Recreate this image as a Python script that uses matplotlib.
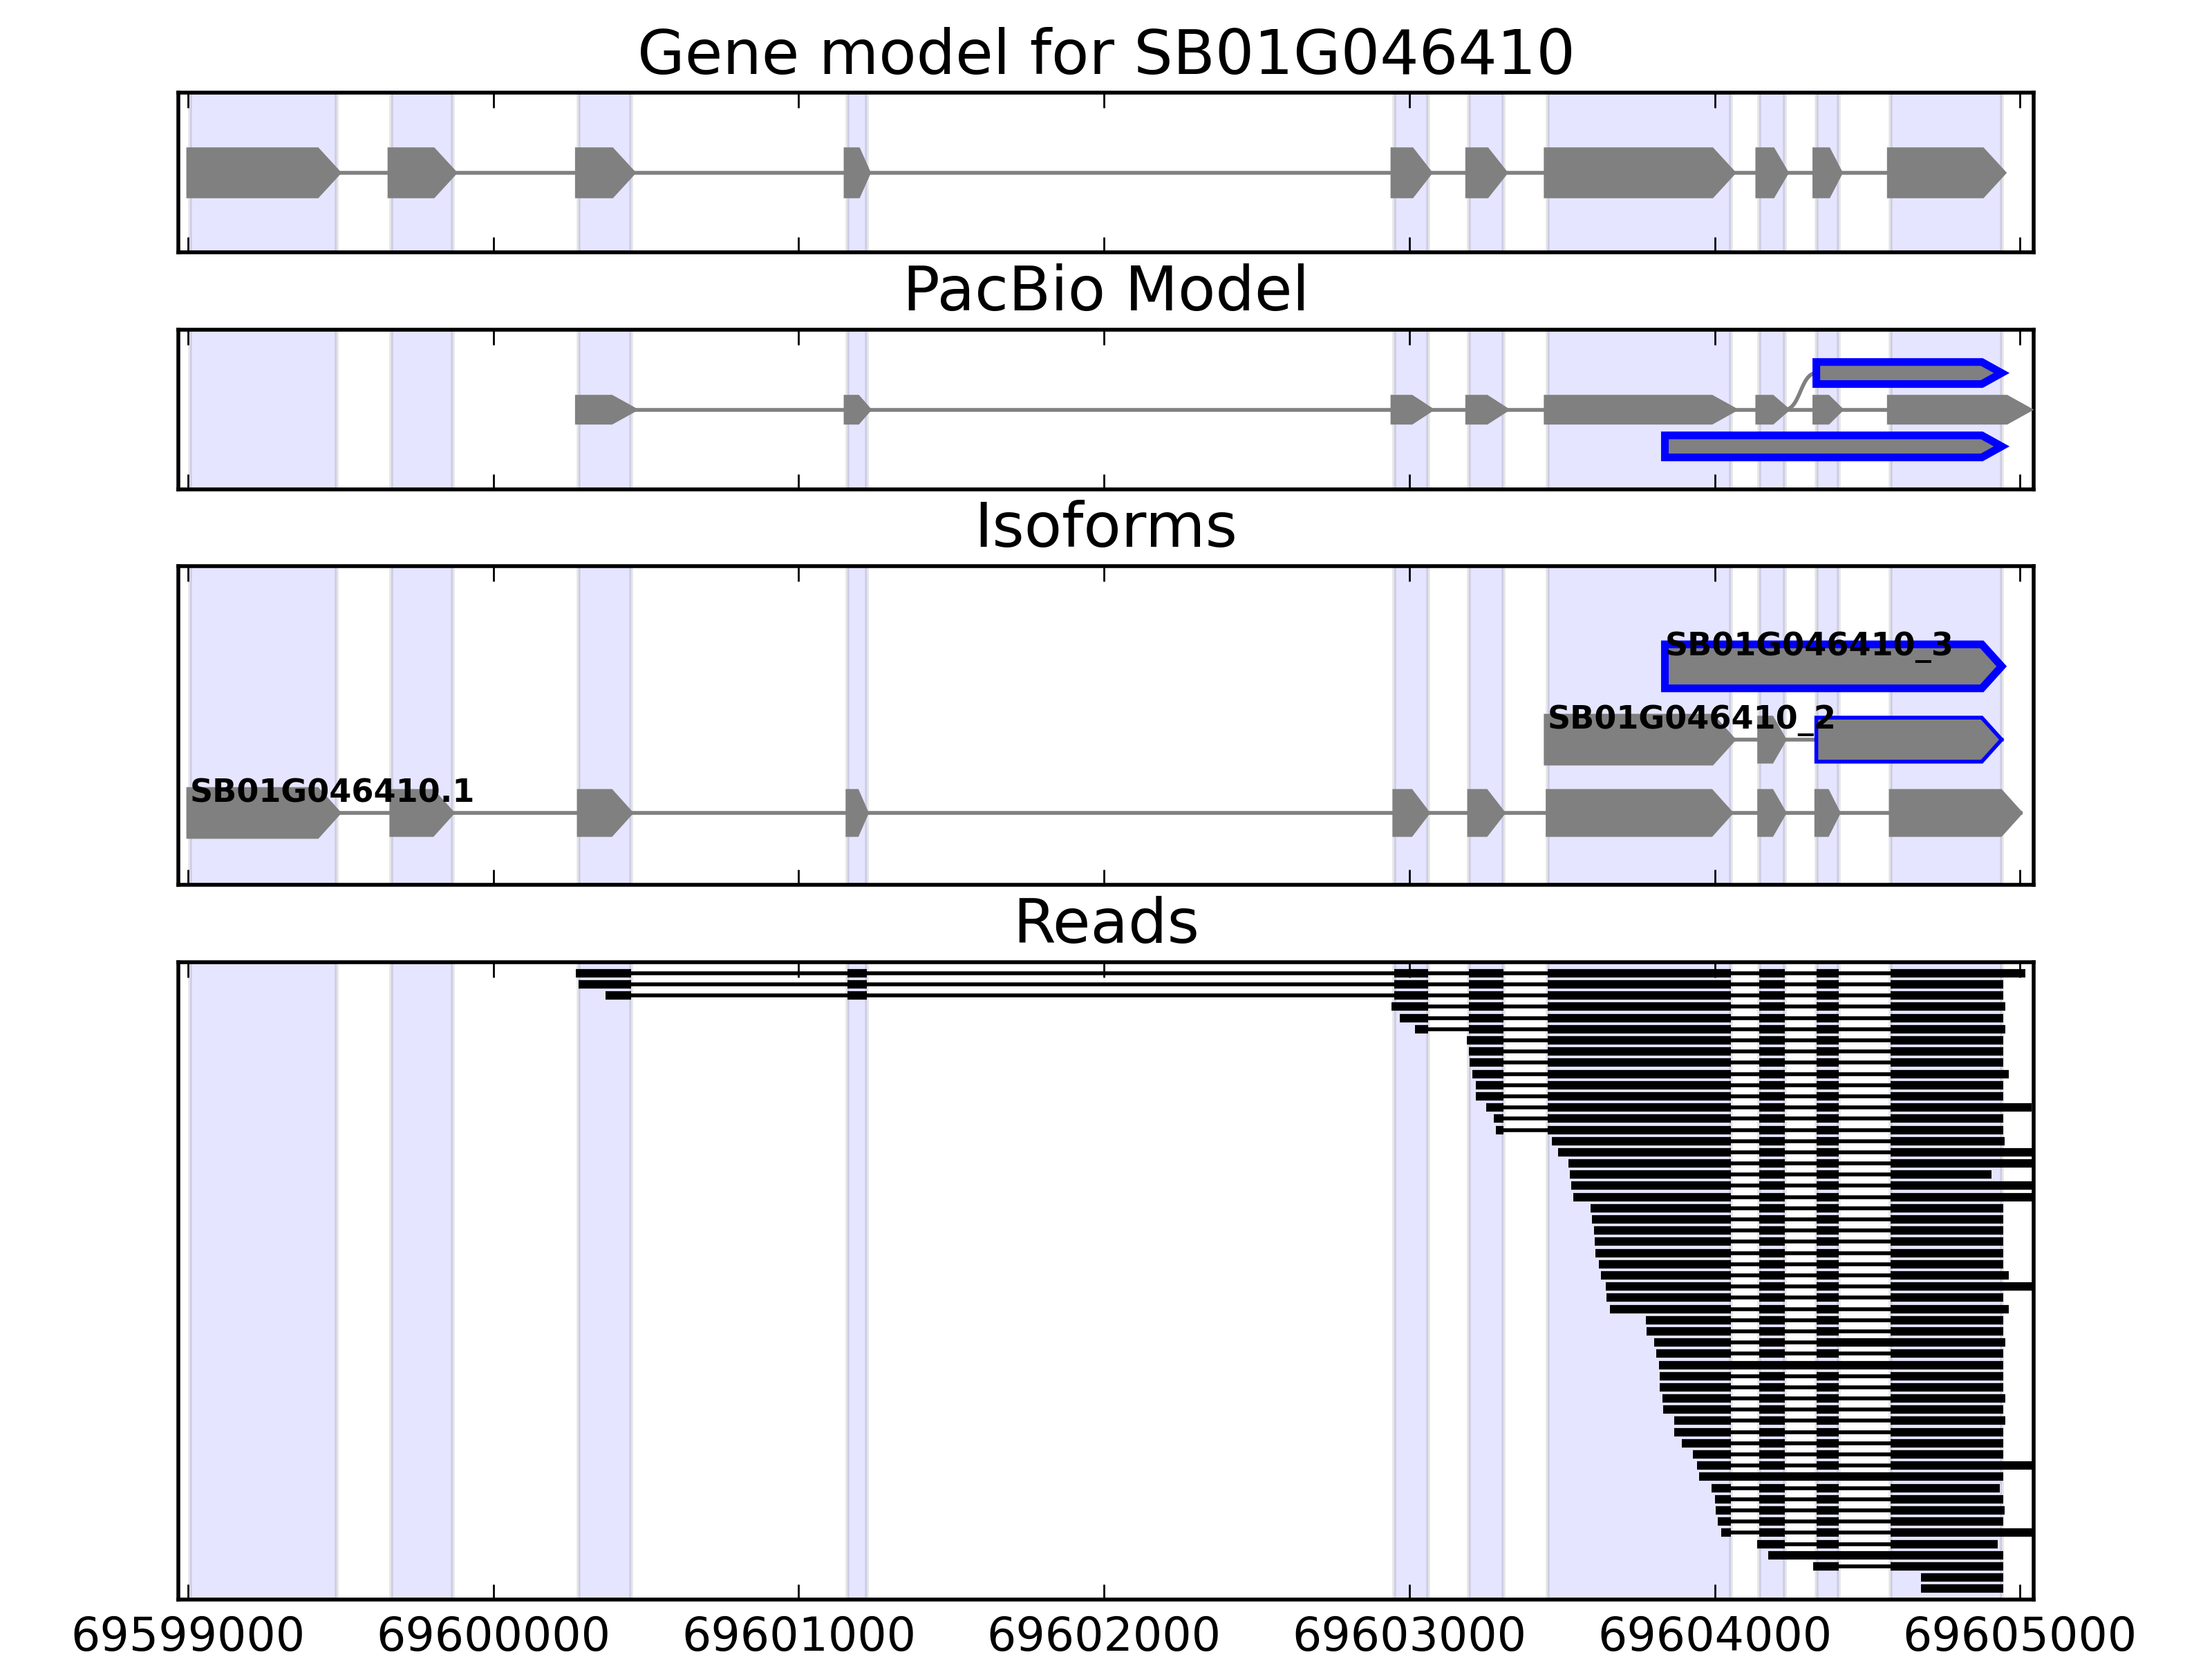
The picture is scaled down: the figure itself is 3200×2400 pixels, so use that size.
import matplotlib
matplotlib.use('Agg')
import matplotlib.pyplot as plt
from matplotlib.patches import Polygon, PathPatch
from matplotlib.path import Path
from matplotlib.ticker import MultipleLocator

plt.style.use('classic')

gene_name = 'SB01G046410'

# exones del modelo de gen (tambien son las bandas azules)
exon_starts = [69599007, 69599666, 69600280, 69601160, 69602951,
               69603196, 69603453, 69604146, 69604333, 69604577]
exon_ends = [69599486, 69599866, 69600451, 69601223, 69603061,
             69603308, 69604054, 69604229, 69604406, 69604940]

# modelo PacBio: fila central + bloques nuevos (fila 2 arriba, fila 0 abajo)
pacbio_starts = [69600280, 69601160, 69602951, 69603196, 69603453,
                 69604146, 69604333, 69604577]
pacbio_ends = [69600451, 69601223, 69603061, 69603308, 69604054,
               69604229, 69604406, 69605020]
pacbio_novel_rows = [2, 0]
pacbio_novel_starts = [69604333, 69603837]
pacbio_novel_ends = [69604940, 69604940]

# isoformas
iso_names = ['SB01G046410.1', 'SB01G046410_2', 'SB01G046410_3']
iso_starts = [exon_starts,
              [69603453, 69604146, 69604333],
              [69603837]]
iso_ends = [exon_ends[:-1] + [69605002],
            [69604054, 69604229, 69604940],
            [69604940]]
iso_novel = [[0] * 10, [0, 0, 1], [2]]   # 0 = normal, 1 = azul fino, 2 = azul grueso

# lecturas (de arriba hacia abajo)
read_starts = [69600270, 69600280, 69600367, 69602942, 69602968, 69603019,
               69603189, 69603196, 69603197, 69603207, 69603218, 69603218,
               69603251, 69603277, 69603284, 69603466, 69603488, 69603520,
               69603526, 69603530, 69603537, 69603594, 69603598, 69603606,
               69603607, 69603609, 69603620, 69603627, 69603644, 69603645,
               69603656, 69603774, 69603777, 69603802, 69603809, 69603817,
               69603820, 69603820, 69603828, 69603831, 69603867, 69603868,
               69603893, 69603928, 69603942, 69603950, 69603989, 69604000,
               69604003, 69604011, 69604021, 69604139, 69604175, 69604323,
               69604675, 69604675]
read_ends = [69605017, 69604946, 69604946, 69604951, 69604946, 69604951,
             69604946, 69604946, 69604946, 69604963, 69604946, 69604946,
             69605037, 69604946, 69604946, 69604949, 69605100, 69605100,
             69604906, 69605100, 69605100, 69604946, 69604945, 69604946,
             69604945, 69604946, 69604946, 69604964, 69605100, 69604946,
             69604964, 69604945, 69604946, 69604951, 69604946, 69604946,
             69604946, 69604945, 69604953, 69604946, 69604951, 69604946,
             69604945, 69604946, 69605100, 69604945, 69604933, 69604945,
             69604949, 69604946, 69605100, 69604927, 69604946, 69604946,
             69604946, 69604946]
# intrones retenidos por lectura (indice de intron)
read_retained = {33: [8], 35: [6, 7, 8], 45: [6, 7, 8], 52: [7, 8]}

GRAY = '#808080'
BLUE = '#0000ff'
XMIN, XMAX = 69598968, 69605045


def dibujar_exon(ax, start, end, y, edge=GRAY, lw=2.0):
    half = 0.30
    head = min(65, 0.5 * (end - start))
    pts = [(start, y - half), (end - head, y - half), (end, y),
           (end - head, y + half), (start, y + half)]
    ax.add_patch(Polygon(pts, closed=True, facecolor=GRAY, edgecolor=edge,
                         linewidth=lw, zorder=3))


def dibujar_modelo(ax, starts, ends, y, edges=None, lws=None):
    ax.plot([starts[0], ends[-1]], [y, y], color=GRAY, lw=1, zorder=2)
    for k, (s, e) in enumerate(zip(starts, ends)):
        edge = edges[k] if edges else GRAY
        lw = lws[k] if lws else 2.0
        dibujar_exon(ax, s, e, y, edge=edge, lw=lw)


def preparar_eje(ax, titulo, etiquetas=False):
    for s, e in zip(exon_starts, exon_ends):
        ax.axvspan(s, e, facecolor='blue', edgecolor='black', linewidth=1,
                   alpha=0.1, zorder=0)
    ax.set_xlim(XMIN, XMAX)
    ax.xaxis.set_major_locator(MultipleLocator(1000))
    ax.ticklabel_format(axis='x', style='plain', useOffset=False)
    ax.set_yticks([])
    ax.set_title(titulo, fontsize=16, pad=5)
    if not etiquetas:
        ax.set_xticklabels([])
    ax.tick_params(axis='x', labelsize=12)


fig = plt.figure(figsize=(8, 6), dpi=400, facecolor='white')
left, width = 0.0806, 0.8388
ax1 = fig.add_axes([left, 0.84771, width, 0.09625])
ax2 = fig.add_axes([left, 0.70483, width, 0.09642])
ax3 = fig.add_axes([left, 0.46667, width, 0.19221])
ax4 = fig.add_axes([left, 0.03583, width, 0.38409])

# Modelo de gen
preparar_eje(ax1, f'Gene model for {gene_name}')
dibujar_modelo(ax1, exon_starts, exon_ends, 0)
ax1.set_ylim(-1.11, 1.11)

# PacBio
preparar_eje(ax2, 'PacBio Model')
dibujar_modelo(ax2, pacbio_starts, pacbio_ends, 1)
for row, s, e in zip(pacbio_novel_rows, pacbio_novel_starts, pacbio_novel_ends):
    dibujar_exon(ax2, s, e, row, edge=BLUE, lw=2.0)
# union curva desde el exon 8 hasta el bloque nuevo de arriba
x0, x1 = pacbio_ends[5], pacbio_novel_starts[0]
xm = (x0 + x1) / 2
curva = Path([(x0, 1), (xm, 1), (xm, 2), (x1, 2)],
             [Path.MOVETO, Path.CURVE4, Path.CURVE4, Path.CURVE4])
ax2.add_patch(PathPatch(curva, facecolor='none', edgecolor=GRAY, lw=1, zorder=2))
ax2.set_ylim(-1.18, 3.18)

# Isoformas
preparar_eje(ax3, 'Isoforms')
for row, (nombre, sts, ens, nov) in enumerate(zip(iso_names, iso_starts, iso_ends, iso_novel)):
    edges = [BLUE if n else GRAY for n in nov]
    lws = [2.0 if (n == 2 or k == 0) else 1.0 for k, n in enumerate(nov)]
    dibujar_modelo(ax3, sts, ens, row, edges=edges, lws=lws)
    ax3.text(sts[0], row + 0.15, nombre, fontsize=8.3, fontweight='bold',
             ha='left', va='baseline', zorder=5)
ax3.set_ylim(-0.98, 3.37)

# Lecturas
preparar_eje(ax4, 'Reads', etiquetas=True)
intrones = [(exon_ends[k], exon_starts[k + 1]) for k in range(len(exon_starts) - 1)]
for i, (s, e) in enumerate(zip(read_starts, read_ends)):
    ax4.plot([s, e], [i, i], color='black', lw=1, solid_capstyle='butt', zorder=2)
    ret = read_retained.get(i, [])
    bloques = []
    cur = s
    for k, (a, b) in enumerate(intrones):
        if a > s and b < e and k not in ret:
            bloques.append((cur, a))
            cur = b
    bloques.append((cur, e))
    for bs, be in bloques:
        ax4.plot([bs, be], [i, i], color='black', lw=2.2, solid_capstyle='butt', zorder=3)
ax4.set_ylim(len(read_starts) - 0.03, -0.97)

fig.savefig('out.png', dpi=400, facecolor='white')
